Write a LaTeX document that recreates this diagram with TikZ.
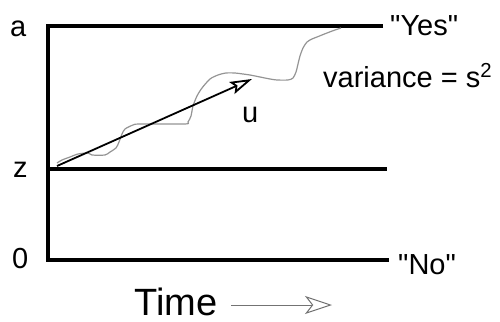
\documentclass[tikz,border=0pt]{standalone}
\usepackage{fontspec}
\setmainfont{Liberation Sans}
\usetikzlibrary{arrows.meta}
\begin{document}
\begin{tikzpicture}[x=1pt,y=-1pt,
  level/.style={line width=4pt, line join=miter},
  lbl/.style={font=\fontsize{29}{34}\selectfont, inner sep=0pt, anchor=base west},
  drift/.style={line width=1.8pt, -{Stealth[open, length=22pt, width=13pt, inset=4pt, line width=1.8pt]}},
  walk/.style={draw=black!42, line width=1.2pt, line join=round},
  timearrow/.style={draw=black!55, line width=1pt, -{Stealth[open, length=27pt, width=18pt, inset=7pt, line width=1pt]}}]
\useasboundingbox (0,0) rectangle (500,321);

% boundary levels and starting point
\coordinate (aL) at (48,26);   \coordinate (aR) at (383,26);
\coordinate (zL) at (48,169);  \coordinate (zR) at (387,169);
\coordinate (oL) at (48,259.5);\coordinate (oR) at (389,259.5);
\draw[level] (aR) -- (aL) -- (oL) -- (oR);
\draw[level] (zL) -- (zR);

% level labels
\node[lbl] (la) at (10,37) {a};
\node[lbl] (lz) at (13,177) {z};
\node[lbl] (l0) at (12,268) {0};
\node[lbl] (yes) at (390,36) {\textquotedbl Yes\textquotedbl};
\node[lbl] (no) at (398,274) {\textquotedbl No\textquotedbl};
\node[lbl] (var) at (323,87) {variance = s\textsuperscript{2}};

% sample diffusion path
\draw[walk] plot[smooth, tension=0.45] coordinates {
  (57,163) (62,160) (70,157) (78,154) (88,153) (92,155) (105,155) (110,152)
  (116,148) (119,142) (122,134) (125,129) (133,125) (140,124) (185,124)
  (188,122) (191,116) (193,106) (197,96) (202,88) (210,79) (218,75) (226,73)
  (235,73) (243,74) (250,75) (260,77) (270,79) (277,80) (288,80) (293,78)
  (296,72) (298,64) (300,56) (303,48) (307,42) (312,39) (317,37) (327,33)
  (335,30) (341,28)};

% drift vector
\coordinate (u0) at (57,166);
\coordinate (u1) at (252,79);
\draw[drift] (u0) -- (u1);
\node[lbl] (lu) at (242,122) {u};

% time axis label
\node[lbl, font=\fontsize{38}{44}\selectfont, text depth=0pt] (time) at (134,315) {Time};
\coordinate (t0) at (231,305);
\coordinate (t1) at (332,305);
\draw[timearrow] (t0) -- (t1);
\end{tikzpicture}
\end{document}
